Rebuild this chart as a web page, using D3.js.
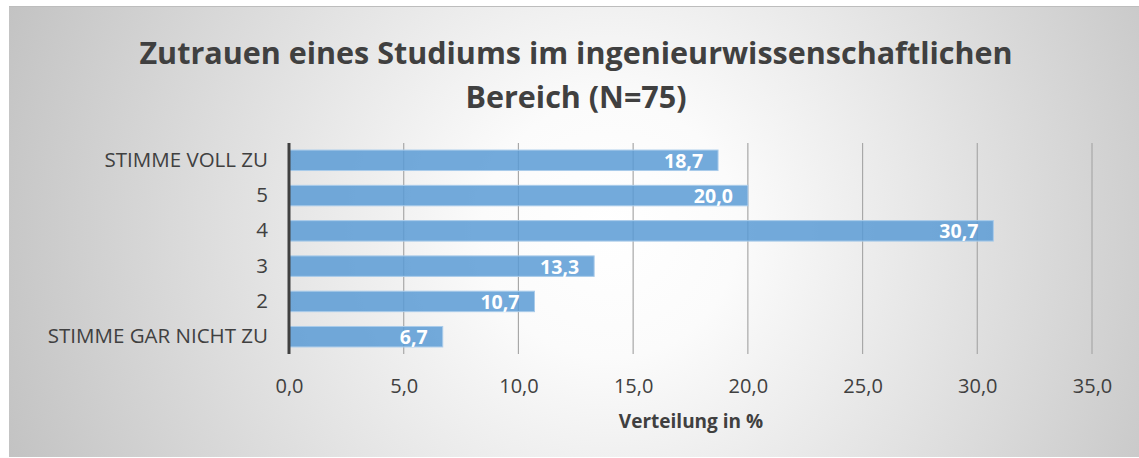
<!DOCTYPE html>
<html>
<head>
<meta charset="utf-8">
<script src="https://cdn.jsdelivr.net/npm/d3@7"></script>
<style>
  body { margin: 0; background: #fff; }
  text { font-family: "Open Sans", "Noto Sans", sans-serif; }
</style>
</head>
<body>
<div id="canvas"></div>
<script>
const W = 1139
const H = 458

const categories = ['STIMME VOLL ZU', '5', '4', '3', '2', 'STIMME GAR NICHT ZU']
const values = [18.7, 20.0, 30.7, 13.3, 10.7, 6.7]
const xTicks = [0, 5, 10, 15, 20, 25, 30, 35]
const titleLines = ['Zutrauen eines Studiums im ingenieurwissenschaftlichen', 'Bereich (N=75)']
const xTitle = 'Verteilung in %'

const margin = {top: 143, right: 47, bottom: 104, left: 289}
const gh = 211

const fmt = v => d3.format('.1f')(v).replace('.', ',')

const svg = d3.select('#canvas')
  .append('svg')
  .attr('width', W)
  .attr('height', H);

// background
const defs = svg.append('defs');
const grad = defs.append('radialGradient')
  .attr('id', 'bg')
  .attr('gradientUnits', 'userSpaceOnUse')
  .attr('cx', 610).attr('cy', 230).attr('r', 640);
grad.append('stop').attr('offset', 0).attr('stop-color', '#ffffff');
grad.append('stop').attr('offset', 0.2).attr('stop-color', '#fbfbfb');
grad.append('stop').attr('offset', 1).attr('stop-color', '#c3c3c3');

svg.append('rect')
  .attr('x', 9).attr('y', 6)
  .attr('width', W - 9).attr('height', H - 7)
  .attr('fill', 'url(#bg)');
svg.append('line')
  .attr('x1', 9).attr('x2', W).attr('y1', 6.5).attr('y2', 6.5)
  .attr('stroke', '#bdbdbd');

// title
svg.append('text')
  .attr('x', 576).attr('y', 64)
  .attr('text-anchor', 'middle')
  .attr('font-size', 30.5)
  .attr('font-weight', 'bold')
  .attr('fill', '#404040')
  .selectAll('tspan')
  .data(titleLines)
  .enter()
  .append('tspan')
    .attr('x', 576)
    .attr('dy', (d, i) => i === 0 ? 0 : 44)
    .text(d => d);

const graph = svg.append('g')
  .attr('transform', `translate(${margin.left}, ${margin.top})`);

const x = d3.scaleLinear()
  .domain([0, 35])
  .range([0, 803]);

const y = d3.scaleBand()
  .domain(categories)
  .range([0, gh])
  .paddingInner(0.42)
  .paddingOuter(0.2);

// gridlines
graph.selectAll('line.grid')
  .data(xTicks.slice(1))
  .enter()
  .append('line')
    .attr('class', 'grid')
    .attr('x1', d => x(d)).attr('x2', d => x(d))
    .attr('y1', 0).attr('y2', gh)
    .attr('stroke', '#a8a8a8')
    .attr('stroke-width', 1.2);

// bars
graph.selectAll('rect.bar')
  .data(values)
  .enter()
  .append('rect')
    .attr('class', 'bar')
    .attr('x', 0)
    .attr('y', (d, i) => y(categories[i]))
    .attr('width', d => x(d))
    .attr('height', y.bandwidth())
    .attr('fill', '#5b9bd5')
    .attr('fill-opacity', 0.85)
    .attr('stroke', '#a9cbea')
    .attr('stroke-width', 1);

// value labels
graph.selectAll('text.val')
  .data(values)
  .enter()
  .append('text')
    .attr('class', 'val')
    .attr('x', d => x(d) - 15)
    .attr('y', (d, i) => y(categories[i]) + y.bandwidth() / 2)
    .attr('dy', '0.38em')
    .attr('text-anchor', 'end')
    .attr('font-size', 19.5)
    .attr('font-weight', 'bold')
    .attr('fill', '#ffffff')
    .text(d => fmt(d));

// y axis
const yAxis = d3.axisLeft(y).tickSize(0).tickPadding(21);
const yAxisGroup = graph.append('g').call(yAxis);
yAxisGroup.select('.domain').remove();
yAxisGroup.selectAll('text')
  .attr('font-size', 20.5)
  .attr('fill', '#404040')
  .style('font-family', '"Open Sans", sans-serif');

graph.append('line')
  .attr('x1', 0).attr('x2', 0)
  .attr('y1', 0).attr('y2', gh)
  .attr('stroke', '#404040')
  .attr('stroke-width', 3);

// x axis labels
const xAxis = d3.axisBottom(x).tickValues(xTicks).tickSize(0).tickPadding(25).tickFormat(fmt);
const xAxisGroup = graph.append('g')
  .attr('transform', `translate(0, ${gh})`)
  .call(xAxis);
xAxisGroup.select('.domain').remove();
xAxisGroup.selectAll('text')
  .attr('font-size', 20)
  .attr('fill', '#404040')
  .style('font-family', '"Open Sans", sans-serif');

svg.append('text')
  .attr('x', 691).attr('y', 428)
  .attr('text-anchor', 'middle')
  .attr('font-size', 19)
  .attr('font-weight', 'bold')
  .attr('fill', '#404040')
  .text(xTitle);
</script>
</body>
</html>
